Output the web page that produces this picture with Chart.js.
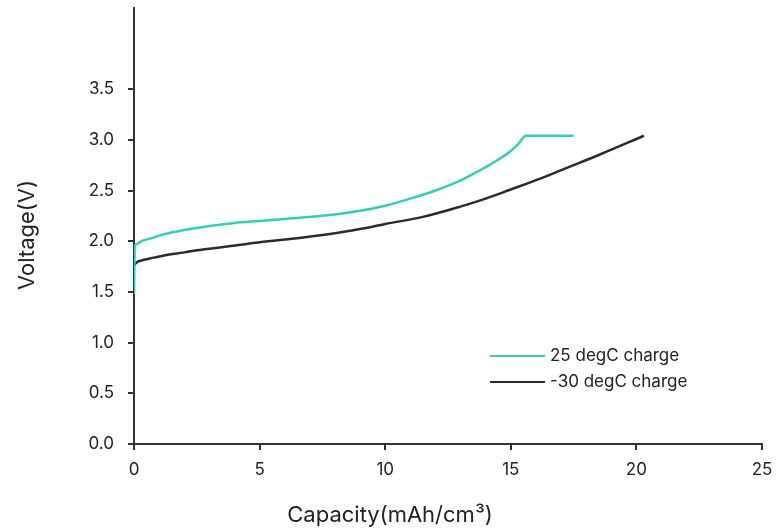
<!DOCTYPE html>
<html>
<head>
<meta charset="utf-8">
<script src="https://cdn.jsdelivr.net/npm/chart.js@4"></script>
<style>
  html, body { margin: 0; padding: 0; background: #fff; }
  #wrap { width: 777px; height: 530px; }
</style>
</head>
<body>
<div id="wrap"><canvas id="chart" width="777" height="530"></canvas></div>
<script>
/* DATA */

const warmCap = [0, 0.03, 0.1, 0.3, 0.7, 1.2, 2, 3, 4, 5, 6, 7.5, 9, 10, 11, 12, 13, 14, 14.6, 15, 15.3, 15.6, 17.5];
const warmVolt = [1.48, 1.95, 1.97, 2.00, 2.03, 2.07, 2.11, 2.15, 2.18, 2.20, 2.22, 2.25, 2.30, 2.35, 2.42, 2.50, 2.60, 2.73, 2.82, 2.89, 2.96, 3.04, 3.04];

const coldCap = [0, 0.1, 0.3, 0.64, 1.2, 2, 2.5, 3.5, 5, 6.5, 7.8, 9, 10, 11.5, 12.7, 14, 15, 16.2, 17.2, 18.5, 20.3];
const coldVolt = [1.76, 1.79, 1.81, 1.83, 1.86, 1.89, 1.91, 1.94, 1.99, 2.03, 2.07, 2.12, 2.17, 2.24, 2.32, 2.42, 2.51, 2.62, 2.72, 2.85, 3.04];

const seriesLabels = ["25 degC charge", "-30 degC charge"];
const seriesColors = ["#35cdb3", "#2b2b2b"];

const xTitle = "Capacity(mAh/cm\u00b3)";
const yTitle = "Voltage(V)";

const FONT = "Inter, 'DejaVu Sans', sans-serif";
const INK = "#222";

function toPoints(xs, ys) {
  return xs.map((x, i) => ({ x: x, y: ys[i] }));
}

/* LEGEND + AXIS TITLES */

const extras = {
  id: "extras",
  afterDraw(chart) {
    const ctx = chart.ctx;
    ctx.save();
    // legend inside plot, lower right
    ctx.font = "17px " + FONT;
    ctx.textBaseline = "middle";
    ctx.textAlign = "left";
    chart.data.datasets.forEach((ds, i) => {
      const y = 356 + i * 26;
      ctx.strokeStyle = ds.borderColor;
      ctx.lineWidth = 2;
      ctx.beginPath();
      ctx.moveTo(490, y);
      ctx.lineTo(545, y);
      ctx.stroke();
      ctx.fillStyle = INK;
      ctx.fillText(ds.label, 550, y);
    });
    // axis titles
    ctx.font = "22px " + FONT;
    ctx.textAlign = "center";
    ctx.fillText(xTitle, 390, 515);
    ctx.translate(27, 235);
    ctx.rotate(-Math.PI / 2);
    ctx.fillText(yTitle, 0, 0);
    ctx.restore();
  }
};

/* CHART */

new Chart(document.getElementById("chart"), {
  type: "line",
  data: {
    datasets: [
      {
        label: seriesLabels[0],
        data: toPoints(warmCap, warmVolt),
        borderColor: seriesColors[0],
        borderWidth: 2.5,
        pointRadius: 0,
        cubicInterpolationMode: "monotone",
        fill: false
      },
      {
        label: seriesLabels[1],
        data: toPoints(coldCap, coldVolt),
        borderColor: seriesColors[1],
        borderWidth: 2.5,
        pointRadius: 0,
        cubicInterpolationMode: "monotone",
        fill: false
      }
    ]
  },
  options: {
    responsive: false,
    animation: false,
    layout: { padding: { top: 8, right: 15, left: 0, bottom: 0 } },
    plugins: {
      legend: { display: false },
      tooltip: { enabled: false }
    },
    scales: {
      x: {
        type: "linear",
        min: 0,
        max: 25,
        afterFit: s => { s.height = 86; s.paddingLeft = 0; s.paddingRight = 0; },
        ticks: { stepSize: 5, padding: 10, color: INK, font: { family: FONT, size: 17 } },
        grid: { drawOnChartArea: false, drawTicks: true, tickLength: 6, color: "#333", lineWidth: 2 },
        border: { display: true, color: "#333", width: 2 }
      },
      y: {
        min: 0,
        max: 4.3,
        afterFit: s => { s.width = 134; s.paddingTop = 0; s.paddingBottom = 0; },
        afterBuildTicks: s => { s.ticks = s.ticks.filter(t => t.value <= 3.5); },
        ticks: {
          stepSize: 0.5,
          padding: 14,
          color: INK,
          font: { family: FONT, size: 17 },
          callback: v => v.toFixed(1)
        },
        grid: { drawOnChartArea: false, drawTicks: true, tickLength: 6, color: "#333", lineWidth: 2 },
        border: { display: true, color: "#333", width: 2 }
      }
    }
  },
  plugins: [extras]
});
</script>
</body>
</html>
